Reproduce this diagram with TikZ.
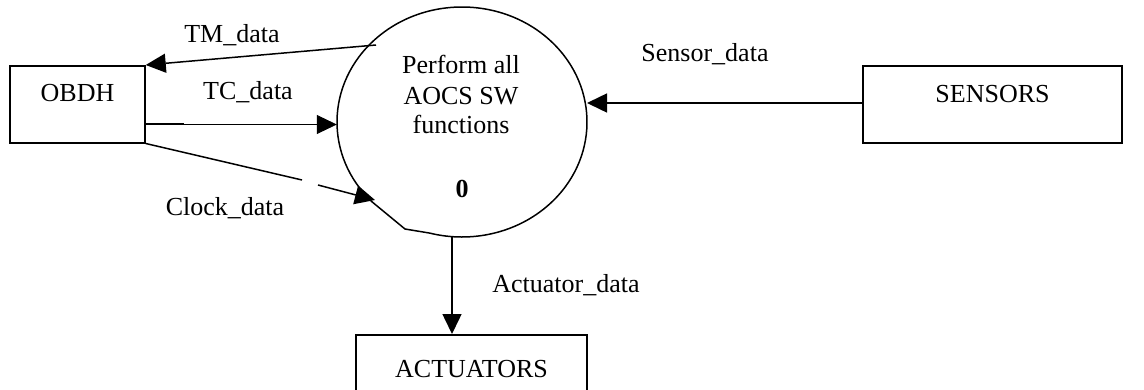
\documentclass[tikz,border=0pt]{standalone}
\usepackage{fontspec}
\setmainfont{Liberation Serif}
\usetikzlibrary{arrows.meta,shapes.geometric,calc}

\tikzset{
  base/.style={font=\fontsize{26}{30}\selectfont},
  txt/.style={base, anchor=base, inner sep=0pt},
  entity/.style={base, draw, line width=1.5pt, rectangle, anchor=north,
                 inner xsep=0pt, inner ysep=18pt, text height=18pt, text depth=23pt},
  flow/.style={line width=1.5pt, -{Triangle[length=20pt,width=19pt]}},
  thinflow/.style={line width=0.8pt, -{Triangle[length=20pt,width=19pt]}},
}

\begin{document}
\begin{tikzpicture}[x=1pt,y=-1pt]
  \useasboundingbox (0,0) rectangle (1144,389);
  \clip (0,0) rectangle (1144,389);

  % external entities
  \node[entity, minimum width=135pt, minimum height=77pt] (obdh) at (77.5,65) {OBDH};
  \node[entity, minimum width=259pt, minimum height=77pt, inner ysep=19pt, text depth=21pt] (sensors) at (992.5,65) {SENSORS};
  \node[entity, minimum width=231pt, minimum height=90pt, inner ysep=16pt] (actuators) at (471.5,334) {ACTUATORS};

  % the process bubble
  \node[ellipse, minimum width=250pt, minimum height=230pt, inner sep=0pt] (proc) at (462,122) {};
  \draw[line width=1.5pt] (proc.center) ++(136:125 and 115)
    arc[start angle=136, end angle=465, x radius=125, y radius=115]
    -- (405,229) -- cycle;
  \node[txt] (p1) at (461,73) {Perform all};
  \node[txt] (p2) at (461,104) {AOCS SW};
  \node[txt] (p3) at (461,133) {functions};
  \node[txt] (pnum) at (462,197) {\textbf{0}};

  % free ends of the flows
  \coordinate (tmstart) at (376,45);
  \coordinate (tcstart) at ($(obdh.south east)+(0,-19)$);
  \coordinate (clkA) at (302,180);
  \coordinate (clkB) at (318,185);
  \coordinate (clkend) at (375,200);
  \coordinate (actx) at (452,0);

  % data flows
  \draw[flow] (tmstart) -- (obdh.north east);
  \draw[thinflow] (tcstart) -- (tcstart -| proc.west);
  \draw[line width=1.5pt] ($(tcstart)+(0,-1)$) -- ++(38,0);
  \draw[line width=1.5pt] (obdh.south east) -- (clkA);
  \draw[flow] (clkB) -- (clkend);
  \draw[flow] (sensors.west |- 0,103) -- (587,103);
  \draw[flow] (proc.south -| actx) -- (actuators.north -| actx);

  % flow labels
  \node[txt] (ltm) at (232,42) {TM\_data};
  \node[txt] (ltc) at (248,99) {TC\_data};
  \node[txt] (lclk) at (225,215) {Clock\_data};
  \node[txt] (lsen) at (705,61) {Sensor\_data};
  \node[txt] (lact) at (566,292) {Actuator\_data};
\end{tikzpicture}
\end{document}
